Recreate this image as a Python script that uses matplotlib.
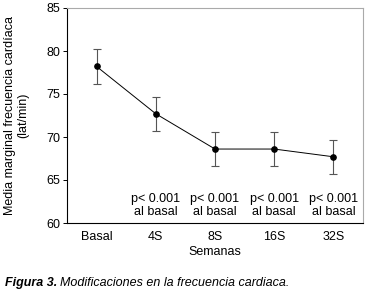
import matplotlib
matplotlib.use("Agg")
import matplotlib.pyplot as plt
from matplotlib.transforms import offset_copy

categories = ["Basal", "4S", "8S", "16S", "32S"]
means = [78.2, 72.7, 68.6, 68.6, 67.7]
errors = [2.0, 2.0, 2.0, 2.0, 2.0]
pvals = ["", "p< 0.001\nal basal", "p< 0.001\nal basal", "p< 0.001\nal basal", "p< 0.001\nal basal"]
yticks = [60, 65, 70, 75, 80, 85]

plt.rcParams['font.family'] = ['Liberation Sans', 'DejaVu Sans']
fig = plt.figure(figsize=(3.71, 2.93), dpi=100)
ax = fig.add_axes([67/371, 1-223/293, (363-67)/371, (223-8)/293])
x = list(range(len(categories)))
ax.errorbar(x, means, yerr=errors, fmt='o-', color='black', ms=3.8, lw=0.7,
            ecolor='#555555', elinewidth=0.8, capsize=3, capthick=0.8)
ax.set_xlim(-0.5, 4.5)
ax.set_ylim(60, 85)
ax.set_yticks(yticks)
ax.set_xticks(x)
ax.set_xticklabels(categories, fontsize=9)
ax.tick_params(axis='y', labelsize=9, length=3, width=0.7, pad=2)
ax.tick_params(axis='x', length=0, pad=6)
for s in ['left', 'bottom']:
    ax.spines[s].set_color('black'); ax.spines[s].set_linewidth(0.8)
for s in ['top', 'right']:
    ax.spines[s].set_color('#aaaaaa'); ax.spines[s].set_linewidth(0.8)
for xi, t in zip(x, pvals):
    if t:
        ax.text(xi, 62, t, ha='center', va='center', fontsize=9, linespacing=1.15)
ax.set_xlabel("Semanas", fontsize=9, labelpad=2)
ax.set_ylabel("Media marginal frecuencia cardíaca\n(lat/min)", fontsize=9, labelpad=12, linespacing=1.15)
t1 = fig.text(5/371, 1-283/293, "Figura 3.", fontsize=9, fontweight='bold', style='italic', va='center')
fig.canvas.draw()
bb = t1.get_window_extent()
fig.text((bb.x1 + 3)/fig.bbox.width, 1-283/293, "Modificaciones en la frecuencia cardiaca.",
         fontsize=9, style='italic', va='center')
fig.savefig("out.png", dpi=100)
